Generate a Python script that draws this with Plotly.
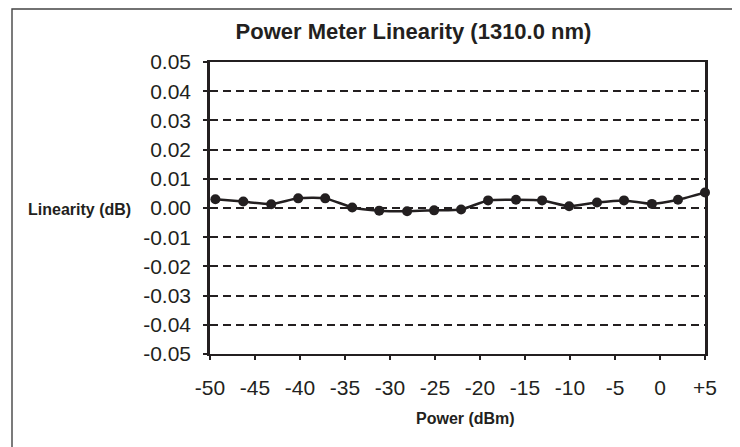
import plotly.graph_objects as go

power_dbm = [-49.4, -46.3, -43.2, -40.2, -37.2, -34.2, -31.2, -28.1, -25.1, -22.1,
             -19.1, -16.0, -13.1, -10.1, -7.0, -4.0, -0.9, 2.0, 5.0]
linearity_db = [0.0030, 0.0022, 0.0013, 0.0033, 0.0033, 0.0002, -0.0009, -0.0011, -0.0008, -0.0005,
                0.0026, 0.0028, 0.0026, 0.0006, 0.0019, 0.0026, 0.0014, 0.0028, 0.0053]

x_tick_vals = [-50, -45, -40, -35, -30, -25, -20, -15, -10, -5, 0, 5]
x_tick_text = ["-50", "-45", "-40", "-35", "-30", "-25", "-20", "-15", "-10", "-5", "0", "+5"]
y_tick_vals = [0.05, 0.04, 0.03, 0.02, 0.01, 0.0, -0.01, -0.02, -0.03, -0.04, -0.05]
y_tick_text = ["0.05", "0.04", "0.03", "0.02", "0.01", "0.00", "-0.01", "-0.02", "-0.03", "-0.04", "-0.05"]

INK = "#231f20"
FONT = "Liberation Sans, Arial, Helvetica, sans-serif"

OFF = 8  # page body margin
W, H = 740 - OFF, 447 - OFF
L, R, T, B = 210 - OFF, 35, 62 - OFF, 93
pw, ph = W - L - R, H - T - B


def px_x(px):
    return (px - OFF - L) / pw


def px_y(py):
    return (H - B - (py - OFF)) / ph


fig = go.Figure()
fig.add_trace(go.Scatter(
    x=power_dbm, y=linearity_db, mode="lines+markers",
    line=dict(color=INK, width=2.5, shape="spline", smoothing=0.6),
    marker=dict(color=INK, size=10),
    showlegend=False, cliponaxis=False,
))

fig.update_layout(
    width=W, height=H,
    margin=dict(l=L, r=R, t=T, b=B),
    paper_bgcolor="white", plot_bgcolor="white",
    font=dict(family=FONT, color=INK),
    title=dict(text="<b>Power Meter Linearity (1310.0 nm)</b>",
               x=(413.5 - OFF) / W, xanchor="center", xref="container",
               y=1 - (31 - OFF) / H, yanchor="middle", yref="container",
               font=dict(size=22, color=INK, family=FONT)),
    xaxis=dict(range=[-50, 5], tickvals=x_tick_vals, ticktext=x_tick_text,
               showgrid=False, zeroline=False,
               showline=True, linecolor=INK, linewidth=2, mirror=True,
               ticks="outside", ticklen=4, tickwidth=2, tickcolor=INK,
               ticklabelstandoff=10,
               tickfont=dict(size=21, color=INK, family=FONT)),
    yaxis=dict(range=[-0.05, 0.05], tickvals=y_tick_vals, ticktext=y_tick_text,
               showgrid=True, gridcolor=INK, gridwidth=2.2, griddash="8px,5px",
               zeroline=False,
               showline=True, linecolor=INK, linewidth=2.5, mirror=True,
               ticks="outside", ticklen=4, tickwidth=2, tickcolor=INK,
               ticklabelstandoff=8,
               tickfont=dict(size=21, color=INK, family=FONT)),
    annotations=[
        dict(text="<b>Linearity (dB)</b>", xref="paper", yref="paper",
             x=px_x(79), y=px_y(209), xanchor="center", yanchor="middle",
             showarrow=False, font=dict(size=16, color=INK, family=FONT)),
        dict(text="<b>Power (dBm)</b>", xref="paper", yref="paper",
             x=px_x(465), y=px_y(418), xanchor="center", yanchor="middle",
             showarrow=False, font=dict(size=16, color=INK, family=FONT)),
    ],
    shapes=[
        dict(type="rect", xref="paper", yref="paper",
             x0=px_x(12), x1=px_x(737), y0=px_y(452), y1=px_y(9),
             line=dict(color="#444444", width=1.4), fillcolor="rgba(0,0,0,0)",
             layer="below"),
    ],
)

fig.write_html("out.html")
